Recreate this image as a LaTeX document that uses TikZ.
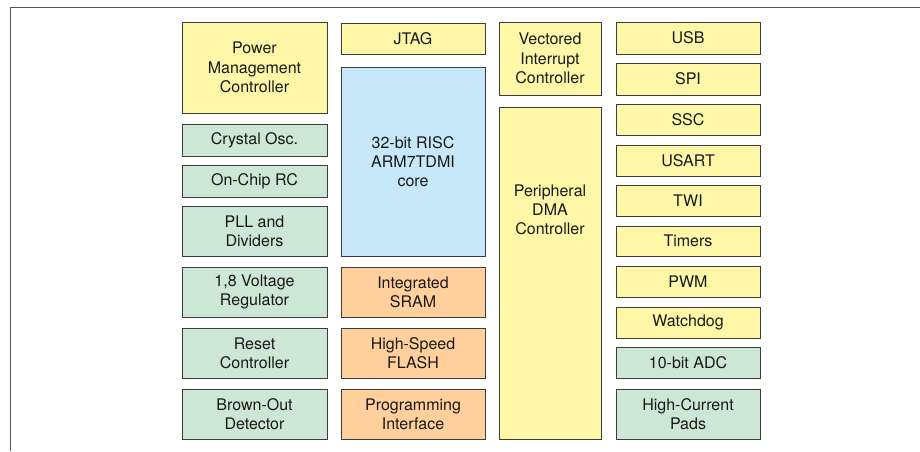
\documentclass[tikz,border=0pt]{standalone}
\usepackage{fontspec}
\setmainfont{TeX Gyre Heros}
\definecolor{Y}{HTML}{FFF7A8}
\definecolor{G}{HTML}{CCE7D5}
\definecolor{B}{HTML}{C6E8F8}
\definecolor{O}{HTML}{FFD09B}
\definecolor{E}{HTML}{3C3C3C}
\definecolor{F}{HTML}{555555}
\begin{document}
\begin{tikzpicture}[x=1pt,y=-1pt,
  bx/.style={draw=E,line width=1pt,inner sep=0pt,align=center,
    font=\fontsize{16}{19.3}\selectfont,text=black!90},
  c1/.style={bx,minimum width=145pt},
  c2/.style={bx,minimum width=144pt},
  c3/.style={bx,minimum width=102pt},
  c4/.style={bx,minimum width=144pt},
  txt/.style={inner sep=0pt,align=center,font=\fontsize{16}{19.3}\selectfont,text=black!90}]
\useasboundingbox (0,0) rectangle (920,451);
\draw[F,line width=1.5pt] (10.5,451) -- (10.5,7.5) -- (920,7.5);
% column 1
\node[c1,fill=Y,minimum height=91pt] (pmc) at (254.5,67.5) {Power\\Management\\Controller};
\node[c1,fill=G,minimum height=32pt] (xo) at (254.5,140) {Crystal Osc.};
\node[c1,fill=G,minimum height=32pt] (rc) at (254.5,181) {On-Chip RC};
\node[c1,fill=G,minimum height=50pt] (pll) at (254.5,231) {PLL and\\Dividers};
\node[c1,fill=G,minimum height=50pt] (vr) at (254.5,292) {1,8 Voltage\\Regulator};
\node[c1,fill=G,minimum height=50pt] (rst) at (254.5,353) {Reset\\Controller};
\node[c1,fill=G,minimum height=50pt] (bod) at (254.5,414) {Brown-Out\\Detector};
% column 2
\node[c2,fill=Y,minimum height=31pt] (jtag) at (413,38.5) {JTAG};
\node[c2,fill=B,minimum height=189pt] (core) at (413,161.5) {32-bit RISC\\ARM7TDMI\\core};
\node[c2,fill=O,minimum height=50pt] (sram) at (413,292) {Integrated\\SRAM};
\node[c2,fill=O,minimum height=50pt] (flash) at (413,353) {High-Speed\\FLASH};
\node[c2,fill=O,minimum height=50pt] (prog) at (413,414) {Programming\\Interface};
% column 3
\node[c3,fill=Y,minimum height=73pt] (vic) at (550,58.5) {Vectored\\Interrupt\\Controller};
\node[c3,fill=Y,minimum height=332pt] (dma) at (550,273) {};
\node[txt] (dmat) at ([yshift=63pt]dma.center) {Peripheral\\DMA\\Controller};
% column 4
\node[c4,fill=Y,minimum height=32pt] (usb) at (688,38) {USB};
\node[c4,fill=Y,minimum height=32pt] (spi) at (688,79) {SPI};
\node[c4,fill=Y,minimum height=31pt] (ssc) at (688,119.5) {SSC};
\node[c4,fill=Y,minimum height=31pt] (usart) at (688,160.5) {USART};
\node[c4,fill=Y,minimum height=31pt] (twi) at (688,200.5) {TWI};
\node[c4,fill=Y,minimum height=30pt] (tim) at (688,241) {Timers};
\node[c4,fill=Y,minimum height=31pt] (pwm) at (688,281.5) {PWM};
\node[c4,fill=Y,minimum height=31pt] (wd) at (688,322.5) {Watchdog};
\node[c4,fill=G,minimum height=31pt] (adc) at (688,362.5) {10-bit ADC};
\node[c4,fill=G,minimum height=50pt] (pads) at (688,414) {High-Current\\Pads};
\end{tikzpicture}
\end{document}
